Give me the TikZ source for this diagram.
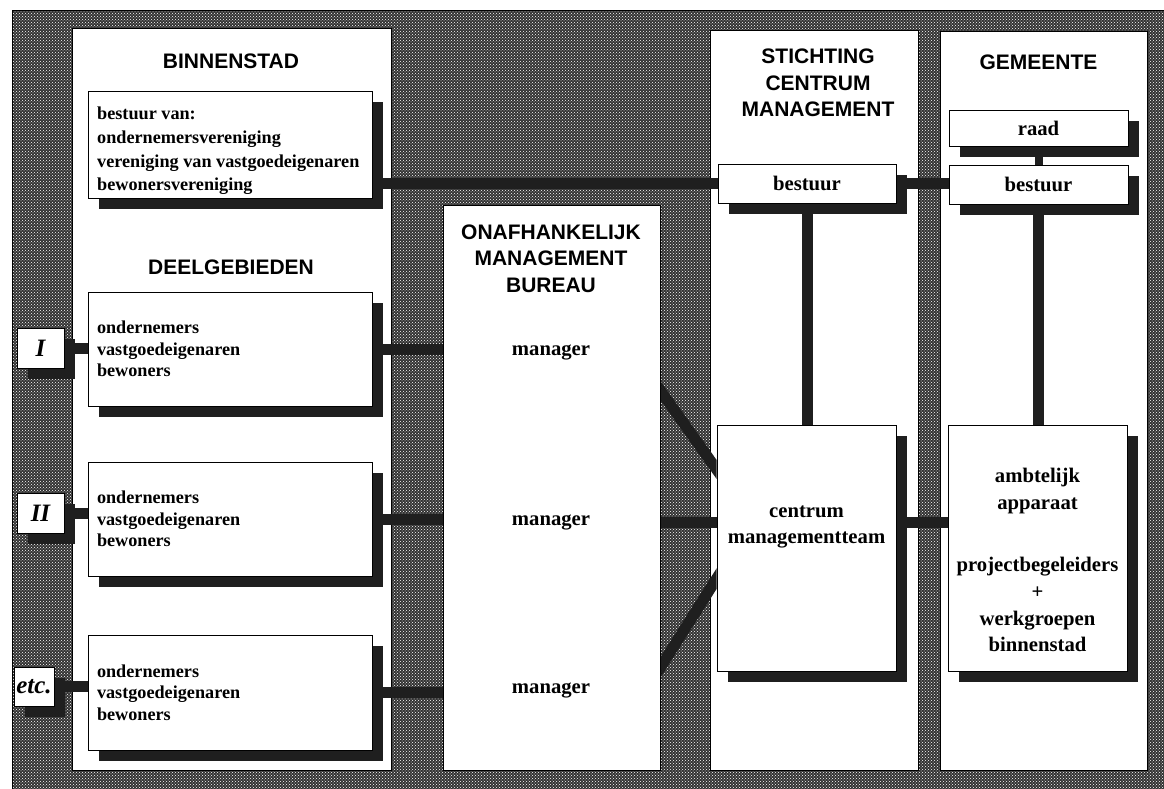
\documentclass[tikz,border=0pt]{standalone}
\usepackage{fontspec}
\setmainfont{Liberation Serif}
\setsansfont{Liberation Sans}
\usetikzlibrary{patterns,calc}
\pgfdeclarelayer{back}
\pgfdeclarelayer{mid}
\pgfsetlayers{back,mid,main}
\colorlet{shadowc}{black!88}
\colorlet{hatchbase}{black!80}
\newcommand\boxshadow[1]{\fill[shadowc] ($(#1.north west)+(11,11)$) rectangle ($(#1.south east)+(11,11)$);}
\begin{document}
\begin{tikzpicture}[x=1pt,y=-1pt,
  panel/.style={draw=black, line width=0.8pt, fill=white, anchor=north west, inner sep=0pt},
  box/.style={draw=black, line width=0.8pt, fill=white, inner sep=0pt},
  deelbox/.style={box, text width=266pt, inner xsep=9pt, minimum height=#1, align=left,
     font=\bfseries\fontsize{18.2}{21.6}\selectfont},
  title/.style={font=\sffamily\bfseries\fontsize{21}{26.5}\selectfont, align=center, inner sep=0pt},
  body/.style={font=\bfseries\fontsize{20.7}{26.7}\selectfont, align=center, inner sep=0pt},
  romanlab/.style={box, font=\bfseries\itshape\fontsize{25}{25}\selectfont},
  link/.style={draw=shadowc, line width=11pt},
  thinlink/.style={draw=shadowc, line width=8pt}]
\useasboundingbox (0,0) rectangle (1164,789);

% background frame
\begin{pgfonlayer}{back}
\fill[hatchbase] (12,10) rectangle (1164,789);
\fill[pattern=crosshatch dots, pattern color=white] (12,10) rectangle (1164,789);
\draw[line width=0.8pt] (12,789) -- (12,10) -- (1164,10);
\node[panel, minimum width=319pt, minimum height=742pt] (pb) at (72,28) {};
\node[panel, minimum width=217pt, minimum height=565pt] (po) at (443,205) {};
\node[panel, minimum width=208pt, minimum height=740pt] (ps) at (710,30) {};
\node[panel, minimum width=207pt, minimum height=739pt] (pg) at (940,31) {};
\end{pgfonlayer}

% titles
\node[title] (tbin) at (231,61) {BINNENSTAD};
\node[title] (tdeel) at (231,267) {DEELGEBIEDEN};
\node[title] (tonaf) at (551,258.5) {ONAFHANKELIJK\\MANAGEMENT\\BUREAU};
\node[title] (tstich) at (818,83) {STICHTING\\CENTRUM\\MANAGEMENT};
\node[title] (tgem) at (1038.5,62) {GEMEENTE};

% binnenstad boxes
\node[box, minimum width=284pt, minimum height=107pt] (bv) at (230,144.5) {};
\node[anchor=west, inner sep=0pt, align=left, font=\bfseries\fontsize{18.2}{23.7}\selectfont] (bvt) at (97,151) {bestuur van:\\ondernemersvereniging\\vereniging van vastgoedeigenaren\\bewonersvereniging};
\node[deelbox=114pt] (d1) at (230,349) {ondernemers\\vastgoedeigenaren\\bewoners};
\node[deelbox=114pt] (d2) at (230,519) {ondernemers\\vastgoedeigenaren\\bewoners};
\node[deelbox=115pt] (d3) at (230,692.5) {ondernemers\\vastgoedeigenaren\\bewoners};

% labels
\node[romanlab, minimum width=47pt, minimum height=40pt] (l1) at (40.5,348) {I};
\node[romanlab, minimum width=47pt, minimum height=40pt] (l2) at (40.5,513) {II};
\node[romanlab, minimum width=40pt, minimum height=39pt] (l3) at (34,686.5) {etc.};

% managers
\node[body] (m1) at (551,352) {manager};
\node[body] (m2) at (551,522) {manager};
\node[body] (m3) at (551,690) {manager};

% stichting / gemeente boxes
\node[box, body, minimum width=178pt, minimum height=39pt] (sb) at (807,183.5) {bestuur};
\node[box, body, minimum width=179pt, minimum height=36pt] (raad) at (1038.5,128) {raad};
\node[box, body, minimum width=179pt, minimum height=39pt] (gb) at (1038.5,184.5) {bestuur};
\node[box, minimum width=179pt, minimum height=246pt] (cm) at (806.5,548) {};
\node[body] (cmt) at (806.5,527) {centrum\\managementteam};
\node[box, minimum width=179pt, minimum height=246pt] (amb) at (1037.5,548) {};
\node[body] (ambt) at (1037.5,560) {ambtelijk\\apparaat\\[36pt]projectbegeleiders\\+\\werkgroepen\\binnenstad};

\coordinate (u1) at (660,390);
\coordinate (u2) at (717,470);
\coordinate (v1) at (660,668);
\coordinate (v2) at (717,578);

% connectors and shadows
\begin{pgfonlayer}{mid}
\foreach \n in {bv,d1,d2,d3,l1,l2,l3,sb,raad,gb,cm,amb} {\boxshadow{\n}}
\draw[link] (bv.east |- sb.west) -- (sb.west);
\draw[link] (sb.east) -- (sb.east -| gb.west);
\draw[thinlink] (raad.south) -- (raad.south |- gb.north);
\draw[link] (sb.south) -- (sb.south |- cm.north);
\draw[link] (gb.south) -- (gb.south |- amb.north);
\draw[link] (d1.east) -- (d1.east -| po.west);
\draw[link] (d2.east) -- (d2.east -| po.west);
\draw[link] (d3.east) -- (d3.east -| po.west);
\draw[link] (l1.east) -- (l1.east -| d1.west);
\draw[link] (l2.east) -- (l2.east -| d2.west);
\draw[link] (l3.east) -- (l3.east -| d3.west);
\draw[link] (m2 -| po.east) -- (m2 -| cm.west);
\draw[link] (m2 -| cm.east) -- (m2 -| amb.west);
\begin{scope}
\clip (po.east |- ps.north) rectangle (cm.west |- po.south);
\draw[link] ($(u1)!-12pt!(u2)$) -- ($(u2)!-12pt!(u1)$);
\draw[link] ($(v1)!-12pt!(v2)$) -- ($(v2)!-12pt!(v1)$);
\end{scope}
\end{pgfonlayer}
\end{tikzpicture}
\end{document}
